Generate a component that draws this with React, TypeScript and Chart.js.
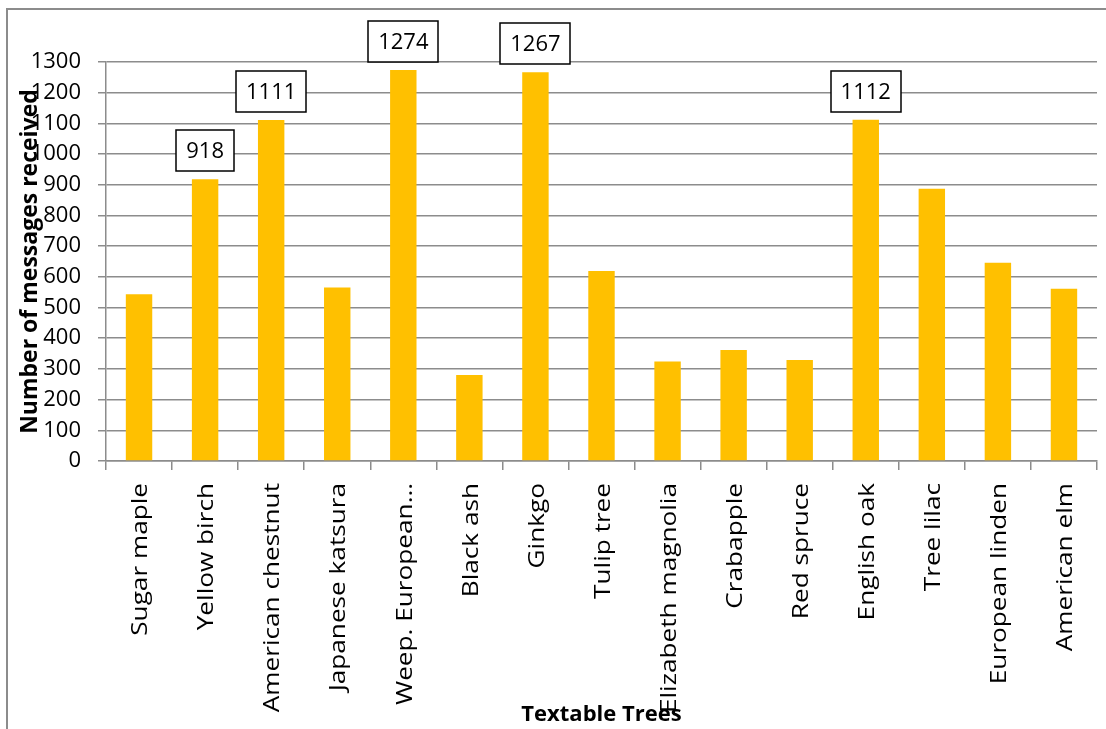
import { useEffect, useRef } from "react";
import { Chart, registerables } from "chart.js";

Chart.register(...registerables);

const categories = [
  "Sugar maple",
  "Yellow birch",
  "American chestnut",
  "Japanese katsura",
  "Weep. European…",
  "Black ash",
  "Ginkgo",
  "Tulip tree",
  "Elizabeth magnolia",
  "Crabapple",
  "Red spruce",
  "English oak",
  "Tree lilac",
  "European linden",
  "American elm",
];

const messages = [543, 918, 1111, 565, 1274, 280, 1267, 619, 324, 362, 329, 1112, 887, 646, 561];

const showValueLabel = [false, true, true, false, true, false, true, false, false, false, false, true, false, false, false];

const yMin = 0;
const yMax = 1300;
const yStep = 100;

const yTitle = "Number of messages received";
const xTitle = "Textable Trees";

const FONT = "'Open Sans', sans-serif";
const GRID = "#8c8c8c";
const BAR = "#FFC000";

export default function App() {
  const ref = useRef<HTMLCanvasElement>(null);

  useEffect(() => {
    if (!ref.current) return;

    const frame = {
      id: "frame",
      beforeDraw(chart: any) {
        const ctx = chart.ctx;
        ctx.save();
        ctx.fillStyle = "#ffffff";
        ctx.fillRect(0, 0, chart.width, chart.height);
        ctx.strokeStyle = GRID;
        ctx.lineWidth = 2;
        ctx.strokeRect(7, 9, chart.width + 40, chart.height + 40);
        ctx.restore();
      },
    };

    const valueBoxes = {
      id: "valueBoxes",
      afterDatasetsDraw(chart: any) {
        const ctx = chart.ctx;
        const meta = chart.getDatasetMeta(0);
        ctx.save();
        ctx.font = `22px ${FONT}`;
        meta.data.forEach((bar: any, i: number) => {
          if (!showValueLabel[i]) return;
          const text = String(messages[i]);
          const w = Math.round(ctx.measureText(text).width + 20);
          const h = 41;
          const bottom = Math.round(bar.y - 8);
          const left = Math.round(bar.x - w / 2);
          ctx.fillStyle = "#ffffff";
          ctx.fillRect(left, bottom - h, w, h);
          ctx.strokeStyle = "#000000";
          ctx.lineWidth = 1.5;
          ctx.strokeRect(left, bottom - h, w, h);
          ctx.fillStyle = "#000000";
          ctx.textAlign = "center";
          ctx.textBaseline = "middle";
          ctx.fillText(text, bar.x, bottom - h / 2 + 1);
        });
        ctx.restore();
      },
    };

    const xLabels = {
      id: "xLabels",
      afterDraw(chart: any) {
        const ctx = chart.ctx;
        const xs = chart.scales.x;
        const top = chart.chartArea.bottom + 22;
        ctx.save();
        ctx.fillStyle = "#000000";
        ctx.font = `22px ${FONT}`;
        ctx.textAlign = "right";
        ctx.textBaseline = "middle";
        categories.forEach((label, i) => {
          const x = xs.getPixelForTick(i);
          ctx.save();
          ctx.translate(x + 2, top);
          ctx.rotate(-Math.PI / 2);
          ctx.scale(1.19, 1);
          ctx.fillText(label, 0, 0);
          ctx.restore();
        });
        ctx.restore();
      },
    };

    const axisTitles = {
      id: "axisTitles",
      afterDraw(chart: any) {
        const ctx = chart.ctx;
        const area = chart.chartArea;
        ctx.save();
        ctx.fillStyle = "#000000";
        ctx.font = `bold 23px ${FONT}`;
        ctx.textAlign = "center";
        ctx.textBaseline = "middle";
        ctx.translate(30, (area.top + area.bottom) / 2);
        ctx.rotate(-Math.PI / 2);
        ctx.fillText(yTitle, 0, 0);
        ctx.restore();

        ctx.save();
        ctx.fillStyle = "#000000";
        ctx.font = `bold 22px ${FONT}`;
        ctx.textAlign = "center";
        ctx.textBaseline = "alphabetic";
        ctx.fillText(xTitle, (area.left + area.right) / 2, 721);
        ctx.restore();
      },
    };

    const chart = new Chart(ref.current, {
      type: "bar",
      data: {
        labels: categories,
        datasets: [
          {
            data: messages,
            backgroundColor: BAR,
            borderWidth: 0,
            barPercentage: 0.4,
            categoryPercentage: 1,
          },
        ],
      },
      options: {
        responsive: false,
        animation: false,
        layout: { padding: { left: 0, top: 62, right: 9, bottom: 0 } },
        plugins: {
          legend: { display: false },
          tooltip: { enabled: false },
          title: { display: false },
        },
        scales: {
          x: {
            offset: true,
            grid: {
              display: true,
              drawOnChartArea: false,
              drawTicks: true,
              tickLength: 9,
              color: GRID,
              lineWidth: 1.5,
              offset: true,
            },
            border: { display: true, color: GRID, width: 1.5 },
            ticks: {
              display: false,
              autoSkip: false,
            },
            afterFit(scale: any) {
              scale.height = 268;
            },
          },
          y: {
            min: yMin,
            max: yMax,
            grid: {
              display: true,
              drawTicks: true,
              tickLength: 8,
              color: GRID,
              lineWidth: 1.5,
            },
            border: { display: true, color: GRID, width: 1.5 },
            ticks: {
              stepSize: yStep,
              padding: 17,
              color: "#000000",
              font: { family: FONT, size: 22 },
              callback: (v: any) => String(v),
            },
            afterFit(scale: any) {
              scale.width = 106;
            },
          },
        },
      },
      plugins: [frame, valueBoxes, xLabels, axisTitles],
    });

    return () => chart.destroy();
  }, []);

  return (
    <div style={{ position: "absolute", left: 0, top: 0, width: 1106, height: 729 }}>
      <canvas ref={ref} width={1106} height={729} style={{ display: "block" }} />
    </div>
  );
}
